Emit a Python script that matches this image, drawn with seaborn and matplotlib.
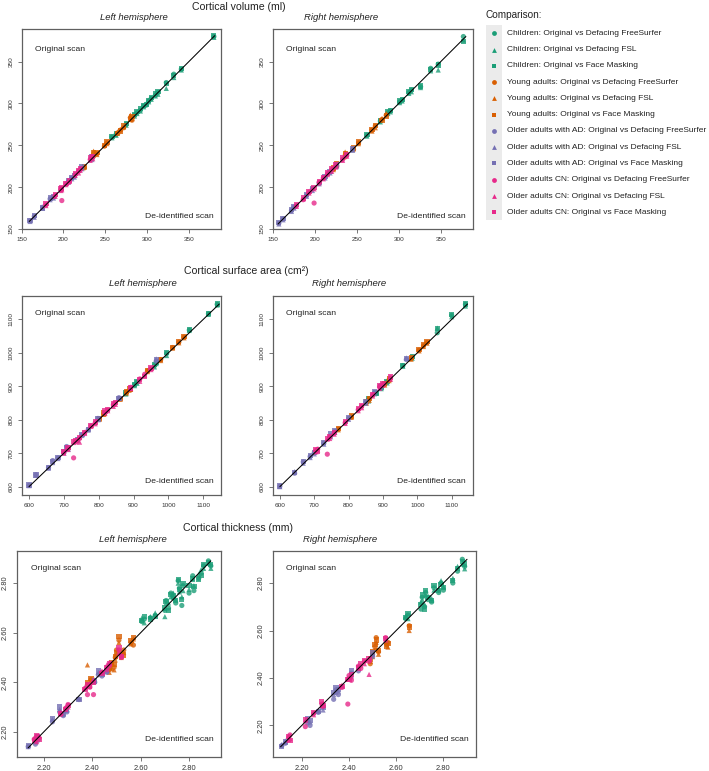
import numpy as np
import pandas as pd
import matplotlib
matplotlib.use("Agg")
import matplotlib.pyplot as plt
from matplotlib.patches import Rectangle
import seaborn as sns

# ---------------- DATA (original scan value, de-identified values per method) ----------------
# cohort codes: C = Children, Y = Young adults, A = Older adults with AD, N = Older adults CN

# Cortical volume, left hemisphere
VOL_LH_GROUP = "AAAAAAAAAA" + "NNNNNNNNNNN" + "YYYYYYYYYY" + "CCCCCCCCCCCCCCCC"
VOL_LH_X = [160, 165, 175, 184, 188, 206, 210, 213, 222, 234,
            179, 190, 197, 198, 203, 207, 214, 218, 220, 232, 235,
            225, 236, 240, 249, 252, 265, 268, 272, 280, 282,
            258, 263, 275, 285, 288, 292, 296, 299, 302, 305, 310, 313, 323, 332, 341, 380]
VOL_LH_FS = [160, 165, 176, 186, 188, 207, 211, 213, 223, 234,
             179, 190, 197, 184, 204, 206, 215, 219, 221, 233, 236,
             223, 237, 240, 249, 253, 265, 268, 271, 283, 280,
             260, 263, 275, 286, 289, 292, 297, 298, 303, 306, 310, 313, 325, 335, 341, 380]
VOL_LH_FSL = [159, 164, 175, 185, 187, 206, 210, 212, 222, 233,
              178, 189, 196, 197, 203, 207, 214, 217, 220, 232, 234,
              224, 243, 239, 251, 252, 266, 269, 272, 286, 282,
              259, 262, 274, 285, 288, 291, 296, 300, 302, 305, 309, 311, 318, 331, 340, 379]
VOL_LH_FM = [160, 166, 175, 187, 189, 208, 212, 214, 224, 236,
             180, 191, 198, 199, 204, 208, 216, 220, 222, 235, 237,
             225, 241, 241, 250, 254, 264, 267, 273, 281, 284,
             261, 264, 276, 287, 290, 294, 298, 299, 304, 307, 312, 314, 324, 333, 342, 381]

# Cortical volume, right hemisphere
VOL_RH_GROUP = "AAAAAAAAAAA" + "NNNNNNNNNNN" + "YYYYYYYYY" + "CCCCCCCCCCCC"
VOL_RH_X = [157, 162, 172, 175, 190, 197, 205, 212, 218, 226, 245,
            178, 186, 193, 199, 205, 210, 215, 220, 225, 233, 238,
            222, 226, 236, 246, 252, 268, 272, 280, 285,
            262, 278, 287, 290, 301, 304, 312, 315, 326, 338, 347, 377]
VOL_RH_FS = [157, 162, 172, 176, 190, 198, 205, 212, 218, 226, 245,
             178, 185, 194, 181, 206, 211, 216, 221, 225, 233, 238,
             222, 225, 236, 245, 253, 268, 273, 281, 286,
             262, 279, 289, 291, 302, 304, 313, 316, 320, 342, 347, 380]
VOL_RH_FSL = [156, 161, 171, 175, 189, 196, 204, 211, 217, 225, 244,
              177, 186, 193, 198, 205, 210, 215, 219, 224, 232, 237,
              221, 226, 242, 246, 252, 267, 271, 282, 288,
              261, 278, 288, 290, 301, 303, 312, 314, 319, 339, 340, 376]
VOL_RH_FM = [158, 163, 173, 177, 191, 198, 206, 213, 219, 227, 246,
             179, 187, 195, 200, 207, 212, 217, 222, 227, 235, 239,
             223, 228, 240, 247, 254, 269, 274, 280, 285,
             263, 280, 290, 292, 303, 305, 314, 317, 321, 341, 346, 374]

# Cortical surface area, left hemisphere
AREA_LH_GROUP = "AAAAAAAAAAAAAA" + "NNNNNNNNNNNNNNNN" + "YYYYYYYYYY" + "CCCCCCCCC"
AREA_LH_X = [600, 620, 656, 668, 683, 700, 708, 713, 740, 752, 770, 798, 858, 965,
             700, 712, 728, 735, 745, 760, 778, 790, 818, 826, 842, 848, 892, 918, 932, 950,
             802, 815, 862, 880, 890, 940, 978, 1012, 1030, 1045,
             878, 903, 910, 960, 965, 995, 1060, 1115, 1140]
AREA_LH_FS = [604, 636, 657, 678, 686, 702, 720, 715, 741, 755, 771, 804, 866, 975,
              702, 714, 686, 737, 744, 762, 782, 791, 822, 829, 845, 850, 897, 922, 936, 953,
              803, 818, 863, 883, 888, 946, 980, 1016, 1032, 1047,
              879, 905, 912, 962, 970, 998, 1068, 1117, 1145]
AREA_LH_FSL = [603, 634, 655, 672, 684, 701, 716, 712, 739, 753, 769, 800, 864, 982,
               700, 711, 732, 734, 733, 759, 780, 788, 820, 827, 840, 846, 893, 915, 933, 950,
               801, 816, 861, 880, 891, 944, 977, 1014, 1030, 1045,
               877, 902, 909, 958, 968, 992, 1067, 1115, 1143]
AREA_LH_FM = [605, 635, 658, 676, 688, 704, 718, 717, 742, 756, 772, 802, 863, 980,
              704, 716, 734, 738, 748, 763, 784, 793, 826, 831, 847, 852, 895, 920, 930, 955,
              804, 820, 864, 884, 892, 948, 981, 1017, 1034, 1049,
              880, 906, 914, 964, 972, 1000, 1069, 1118, 1146]

# Cortical surface area, right hemisphere
AREA_RH_GROUP = "AAAAAAAAAAAAA" + "NNNNNNNNNNNN" + "YYYYYYYYYY" + "CCCCCCCCC"
AREA_RH_X = [600, 643, 668, 688, 700, 728, 748, 760, 800, 850, 875, 893, 968,
             705, 710, 738, 745, 758, 790, 828, 838, 870, 890, 900, 922,
             770, 808, 852, 860, 905, 918, 982, 1005, 1018, 1028,
             858, 880, 895, 912, 958, 985, 1058, 1100, 1140]
AREA_RH_FS = [601, 640, 674, 690, 702, 730, 752, 765, 804, 852, 880, 902, 980,
              708, 712, 697, 748, 760, 791, 830, 840, 874, 898, 906, 925,
              772, 809, 853, 862, 906, 920, 983, 1008, 1021, 1031,
              860, 878, 896, 913, 962, 987, 1060, 1112, 1145]
AREA_RH_FSL = [600, 645, 670, 687, 698, 727, 749, 762, 801, 849, 878, 896, 985,
               704, 709, 742, 744, 757, 789, 827, 836, 871, 894, 903, 921,
               770, 807, 850, 858, 904, 917, 981, 1006, 1019, 1029,
               856, 882, 893, 910, 960, 984, 1074, 1108, 1140]
AREA_RH_FM = [602, 643, 676, 692, 703, 732, 760, 768, 806, 855, 885, 899, 983,
              710, 706, 745, 750, 762, 794, 833, 842, 876, 903, 908, 928,
              774, 811, 855, 864, 908, 922, 985, 1010, 1024, 1033,
              862, 880, 898, 915, 963, 989, 1072, 1114, 1146]

# Cortical thickness, left hemisphere
THK_LH_GROUP = "AAAAAAAAAAAA" + "NNNNNNNNNNNNNNN" + "YYYYYYYYYYYY" + "CCCCCCCCCCCCCCCCCCCCCC"
THK_LH_X = [2.135, 2.165, 2.175, 2.235, 2.265, 2.280, 2.295, 2.345, 2.410, 2.425, 2.440, 2.460,
            2.160, 2.170, 2.180, 2.270, 2.290, 2.300, 2.370, 2.380, 2.390, 2.405, 2.440, 2.460, 2.470, 2.510, 2.520,
            2.380, 2.395, 2.470, 2.480, 2.490, 2.495, 2.500, 2.510, 2.520, 2.530, 2.560, 2.570,
            2.605, 2.615, 2.640, 2.660, 2.700, 2.705, 2.715, 2.725, 2.735, 2.745, 2.755, 2.760,
            2.770, 2.775, 2.800, 2.815, 2.820, 2.840, 2.850, 2.860, 2.880, 2.890]
THK_LH_FS = [2.140, 2.150, 2.165, 2.240, 2.280, 2.265, 2.280, 2.330, 2.400, 2.430, 2.425, 2.440,
             2.170, 2.180, 2.175, 2.270, 2.295, 2.310, 2.375, 2.350, 2.380, 2.350, 2.440, 2.450, 2.465, 2.530, 2.500,
             2.390, 2.410, 2.450, 2.470, 2.460, 2.500, 2.530, 2.570, 2.510, 2.530, 2.560, 2.550,
             2.645, 2.655, 2.660, 2.670, 2.690, 2.730, 2.700, 2.760, 2.740, 2.720, 2.810, 2.780,
             2.710, 2.790, 2.760, 2.830, 2.770, 2.820, 2.840, 2.870, 2.890, 2.870]
THK_LH_FSL = [2.140, 2.160, 2.175, 2.250, 2.290, 2.270, 2.290, 2.335, 2.410, 2.440, 2.440, 2.450,
              2.175, 2.160, 2.185, 2.280, 2.300, 2.300, 2.380, 2.385, 2.395, 2.410, 2.445, 2.470, 2.480, 2.520, 2.510,
              2.470, 2.400, 2.440, 2.455, 2.450, 2.490, 2.515, 2.560, 2.500, 2.520, 2.555, 2.575,
              2.660, 2.640, 2.665, 2.680, 2.665, 2.720, 2.720, 2.745, 2.760, 2.735, 2.800, 2.765,
              2.745, 2.770, 2.775, 2.815, 2.790, 2.835, 2.855, 2.860, 2.880, 2.860]
THK_LH_FM = [2.145, 2.170, 2.180, 2.255, 2.300, 2.275, 2.285, 2.330, 2.405, 2.445, 2.430, 2.445,
             2.165, 2.185, 2.170, 2.275, 2.290, 2.305, 2.370, 2.390, 2.385, 2.400, 2.435, 2.460, 2.475, 2.540, 2.505,
             2.400, 2.415, 2.460, 2.480, 2.470, 2.505, 2.520, 2.585, 2.520, 2.510, 2.570, 2.580,
             2.650, 2.665, 2.655, 2.665, 2.700, 2.725, 2.690, 2.755, 2.750, 2.730, 2.815, 2.775,
             2.735, 2.800, 2.790, 2.820, 2.785, 2.815, 2.830, 2.875, 2.885, 2.875]

# Cortical thickness, right hemisphere
THK_RH_GROUP = "AAAAAAAAAAAA" + "NNNNNNNNNNNNNNN" + "YYYYYYYY" + "CCCCCCCCCCCCCCCC"
THK_RH_X = [2.115, 2.130, 2.225, 2.235, 2.270, 2.290, 2.335, 2.345, 2.355, 2.410, 2.440, 2.500,
            2.145, 2.150, 2.215, 2.250, 2.285, 2.290, 2.370, 2.395, 2.400, 2.410, 2.440, 2.450, 2.465, 2.485, 2.555,
            2.490, 2.500, 2.510, 2.515, 2.525, 2.560, 2.565, 2.655,
            2.640, 2.650, 2.705, 2.710, 2.720, 2.725, 2.735, 2.750, 2.760, 2.780, 2.790, 2.800,
            2.840, 2.860, 2.880, 2.890]
THK_RH_FS = [2.115, 2.125, 2.210, 2.200, 2.255, 2.280, 2.310, 2.350, 2.330, 2.420, 2.430, 2.490,
             2.150, 2.160, 2.195, 2.250, 2.290, 2.280, 2.360, 2.290, 2.410, 2.390, 2.450, 2.440, 2.470, 2.470, 2.570,
             2.460, 2.500, 2.530, 2.570, 2.510, 2.540, 2.550, 2.620,
             2.650, 2.665, 2.690, 2.740, 2.700, 2.760, 2.730, 2.720, 2.780, 2.760, 2.800, 2.770,
             2.800, 2.850, 2.900, 2.870]
THK_RH_FSL = [2.120, 2.135, 2.225, 2.215, 2.265, 2.265, 2.330, 2.340, 2.345, 2.410, 2.440, 2.500,
              2.140, 2.145, 2.220, 2.245, 2.285, 2.295, 2.370, 2.400, 2.400, 2.405, 2.440, 2.455, 2.460, 2.415, 2.560,
              2.470, 2.490, 2.520, 2.550, 2.500, 2.550, 2.530, 2.600,
              2.660, 2.650, 2.720, 2.730, 2.710, 2.750, 2.745, 2.735, 2.770, 2.775, 2.810, 2.785,
              2.820, 2.870, 2.880, 2.860]
THK_RH_FM = [2.110, 2.130, 2.230, 2.220, 2.260, 2.275, 2.340, 2.360, 2.350, 2.430, 2.445, 2.505,
             2.155, 2.135, 2.225, 2.255, 2.300, 2.285, 2.365, 2.395, 2.395, 2.415, 2.445, 2.460, 2.475, 2.480, 2.565,
             2.480, 2.510, 2.540, 2.560, 2.515, 2.535, 2.545, 2.615,
             2.655, 2.670, 2.710, 2.750, 2.690, 2.770, 2.740, 2.725, 2.790, 2.770, 2.795, 2.780,
             2.810, 2.860, 2.890, 2.880]

COHORT_NAMES = {"C": "Children", "Y": "Young adults", "A": "Older adults with AD", "N": "Older adults CN"}
COHORT_ORDER = ["Children", "Young adults", "Older adults with AD", "Older adults CN"]
METHODS = ["Defacing FreeSurfer", "Defacing FSL", "Face Masking"]
PALETTE = {"Children": "#1B9E77", "Young adults": "#D95F02",
           "Older adults with AD": "#7570B3", "Older adults CN": "#E7298A"}
MARKERS = {"Defacing FreeSurfer": "o", "Defacing FSL": "^", "Face Masking": "s"}

VOL_TICKS = [150, 200, 250, 300, 350]
AREA_TICKS = [600, 700, 800, 900, 1000, 1100]
THK_TICKS = [2.20, 2.40, 2.60, 2.80]
THK_TICK_LABELS = ["2.20", "2.40", "2.60", "2.80"]


def build(group, x, fs, fsl, fm):
    rows = []
    for g, xv, a, b, c in zip(group, x, fs, fsl, fm):
        for m, yv in zip(METHODS, (a, b, c)):
            rows.append({"cohort": COHORT_NAMES[g], "method": m, "orig": xv, "deid": yv})
    df = pd.DataFrame(rows)
    df["cohort"] = pd.Categorical(df["cohort"], COHORT_ORDER, ordered=True)
    df["method"] = pd.Categorical(df["method"], METHODS, ordered=True)
    return df.sort_values(["cohort", "method"], kind="stable").reset_index(drop=True)


# ---------------- FIGURE ----------------
sns.set_style("white")
plt.rcParams["font.family"] = ["Liberation Sans", "DejaVu Sans"]

W, H = 709, 771
fig = plt.figure(figsize=(W / 100, H / 100), dpi=100)


def px_axes(l, t, r, b):
    return fig.add_axes([l / W, 1 - b / H, (r - l) / W, (b - t) / H])


panels = [
    (build(VOL_LH_GROUP, VOL_LH_X, VOL_LH_FS, VOL_LH_FSL, VOL_LH_FM), (21.7, 29, 221, 229),
     (150.5, 388.5), (150.5, 389), VOL_TICKS, None, 4.6, (0.897, 0.06)),
    (build(VOL_RH_GROUP, VOL_RH_X, VOL_RH_FS, VOL_RH_FSL, VOL_RH_FM), (273, 29, 473, 229),
     (150.5, 388.5), (150.5, 389), VOL_TICKS, None, 4.6, (0.897, 0.06)),
    (build(AREA_LH_GROUP, AREA_LH_X, AREA_LH_FS, AREA_LH_FSL, AREA_LH_FM), (21.7, 296, 221, 495),
     (579, 1151), (575, 1170), AREA_TICKS, None, 4.6, (0.91, 0.067)),
    (build(AREA_RH_GROUP, AREA_RH_X, AREA_RH_FS, AREA_RH_FSL, AREA_RH_FM), (273, 296, 473, 495),
     (580, 1162), (575, 1170), AREA_TICKS, None, 4.6, (0.91, 0.067)),
    (build(THK_LH_GROUP, THK_LH_X, THK_LH_FS, THK_LH_FSL, THK_LH_FM), (17.3, 551, 221, 757),
     (2.09, 2.932), (2.098, 2.93), THK_TICKS, THK_TICK_LABELS, 5.4, (0.916, 0.086)),
    (build(THK_RH_GROUP, THK_RH_X, THK_RH_FS, THK_RH_FSL, THK_RH_FM), (273, 551, 476, 757),
     (2.078, 2.938), (2.067, 2.935), THK_TICKS, THK_TICK_LABELS, 5.4, (0.916, 0.086)),
]

for df, box, xl, yl, ticks, tlabels, lsize, (ty_top, ty_bot) in panels:
    ax = px_axes(*box)
    sns.scatterplot(data=df, x="orig", y="deid", hue="cohort", style="method",
                    palette=PALETTE, markers=MARKERS, s=14, alpha=0.8,
                    linewidth=0, legend=False, ax=ax, zorder=2)
    lo = min(df["orig"].min(), df["deid"].min())
    hi = max(df["orig"].max(), df["deid"].max())
    ax.plot([lo, hi], [lo, hi], color="black", lw=0.75, zorder=3)
    ax.set_xlim(*xl)
    ax.set_ylim(*yl)
    ax.set_xticks(ticks)
    ax.set_yticks(ticks)
    if tlabels is not None:
        ax.set_xticklabels(tlabels)
        ax.set_yticklabels(tlabels)
    ax.set_xlabel("")
    ax.set_ylabel("")
    for sp in ax.spines.values():
        sp.set_color("#606060")
        sp.set_linewidth(0.9)
    ax.tick_params(direction="out", length=3, width=0.6, colors="#606060",
                   labelcolor="#333333", labelsize=lsize, pad=3)
    ax.tick_params(axis="x", bottom=True)
    ax.tick_params(axis="y", left=True)
    for lab in ax.get_yticklabels():
        lab.set_rotation(90)
        lab.set_va("center")
    ax.text(0.065, ty_top, "Original scan", transform=ax.transAxes,
            fontsize=6.1, color="#222222", va="center", ha="left")
    ax.text(0.962, ty_bot, "De-identified scan", transform=ax.transAxes,
            fontsize=6.1, color="#222222", va="center", ha="right")

# ---------------- overlay for titles and legend ----------------
ov = fig.add_axes([0, 0, 1, 1], zorder=10)
ov.set_xlim(0, W)
ov.set_ylim(H, 0)
ov.axis("off")

title_kw = dict(fontsize=7.6, color="#222222", ha="center", va="center")
sub_kw = dict(fontsize=6.8, color="#222222", ha="center", va="center", style="italic")
ov.text(239, 6.5, "Cortical volume (ml)", **title_kw)
ov.text(134, 17, "Left hemisphere", **sub_kw)
ov.text(341, 17, "Right hemisphere", **sub_kw)
ov.text(246, 271, "Cortical surface area (cm²)", **title_kw)
ov.text(143, 283, "Left hemisphere", **sub_kw)
ov.text(349, 283, "Right hemisphere", **sub_kw)
ov.text(238, 528, "Cortical thickness (mm)", **title_kw)
ov.text(133, 540, "Left hemisphere", **sub_kw)
ov.text(340, 539.5, "Right hemisphere", **sub_kw)

# legend
ov.text(486, 15, "Comparison:", fontsize=7.2, color="#222222", ha="left", va="center")
ov.add_patch(Rectangle((486, 25), 16, 195, facecolor="#EBEBEB", edgecolor="none"))
i = 0
for cohort in COHORT_ORDER:
    for m in METHODS:
        yy = 33.3 + i * 16.27
        ov.scatter([494.3], [yy], s=12, marker=MARKERS[m], color=PALETTE[cohort], linewidth=0)
        ov.text(507.3, yy, f"{cohort}: Original vs {m}", fontsize=6.0,
                color="#222222", ha="left", va="center")
        i += 1

fig.savefig("out.png", dpi=100)
